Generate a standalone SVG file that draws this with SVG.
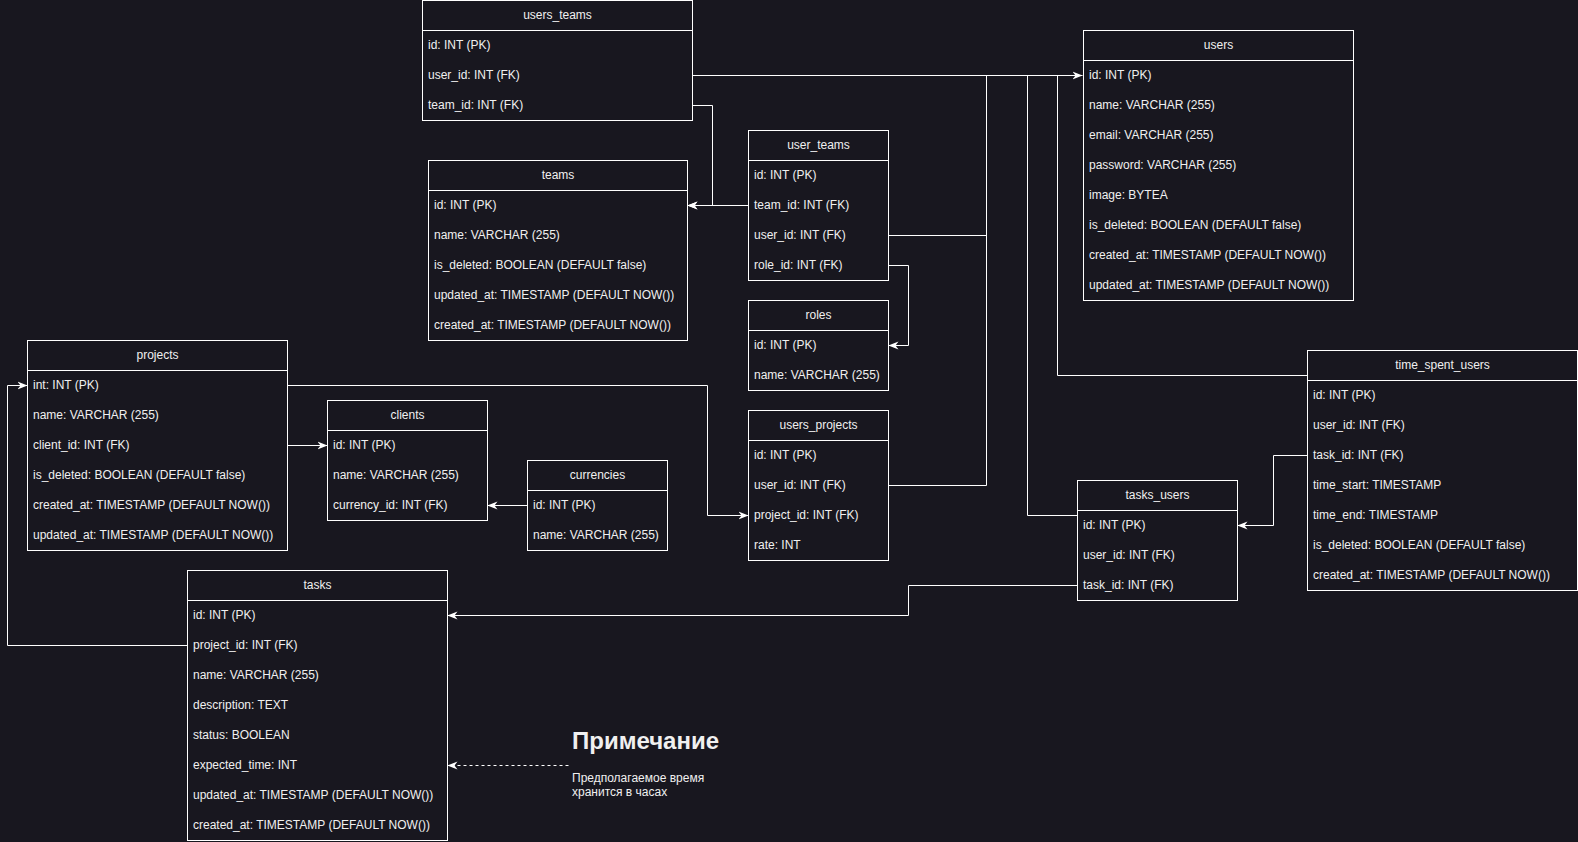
<svg xmlns="http://www.w3.org/2000/svg" width="1578" height="842" viewBox="0 0 1578 842">
<defs>
<style>
.bg{fill:#18171f}
.box{fill:#18171f;stroke:#ffffff;stroke-width:1}
.sep{stroke:#ffffff;stroke-width:1}
.h{font-family:"Liberation Sans",Arial,sans-serif;font-size:12px;fill:#f0f0f0;text-anchor:middle}
.r{font-family:"Liberation Sans",Arial,sans-serif;font-size:12px;fill:#f0f0f0}
.c{fill:none;stroke:#ffffff;stroke-width:1;marker-end:url(#arr)}
.cn{fill:none;stroke:#ffffff;stroke-width:1}
.d{fill:none;stroke:#ffffff;stroke-width:1;stroke-dasharray:3 3;marker-end:url(#arr)}
.nt{font-family:"Liberation Sans",Arial,sans-serif;font-size:24px;font-weight:bold;fill:#f0f0f0}
.ns{font-family:"Liberation Sans",Arial,sans-serif;font-size:12px;fill:#f0f0f0}
</style>
<marker id="arr" viewBox="0 0 10 10" refX="10" refY="5" markerWidth="10" markerHeight="10" markerUnits="userSpaceOnUse" orient="auto">
<path d="M0,1 L10,5 L0,9 L3,5 z" fill="#ffffff"/>
</marker>
</defs>
<rect class="bg" x="0" y="0" width="1578" height="842"/>

<g id="connectors">
<polyline class="c" points="692.5,75.5 1082.5,75.5"/>
<polyline class="c" points="692.5,105.5 712.5,105.5 712.5,205.5 687.5,205.5"/>
<polyline class="c" points="748.5,205.5 687.5,205.5"/>
<polyline class="cn" points="888.5,235.5 986.5,235.5 986.5,75.5"/>
<polyline class="c" points="888.5,265.5 908.5,265.5 908.5,345.5 888.5,345.5"/>
<polyline class="cn" points="888.5,485.5 986.5,485.5 986.5,75.5"/>
<polyline class="cn" points="1077.5,515.5 1027.5,515.5 1027.5,75.5"/>
<polyline class="cn" points="1307.5,375.5 1057.5,375.5 1057.5,75.5"/>
<polyline class="c" points="1307.5,455.5 1273.5,455.5 1273.5,525.5 1237.5,525.5"/>
<polyline class="c" points="1077.5,585.5 908.5,585.5 908.5,615.5 447.5,615.5"/>
<polyline class="c" points="287.5,385.5 707.5,385.5 707.5,515.5 748.5,515.5"/>
<polyline class="c" points="287.5,445.5 327.5,445.5"/>
<polyline class="c" points="527.5,505.5 487.5,505.5"/>
<polyline class="c" points="187.5,645.5 7.5,645.5 7.5,385.5 27.5,385.5"/>
<polyline class="d" points="568.5,765.5 447.5,765.5"/>
</g>

<g id="users_teams">
<rect class="box" x="422.5" y="0.5" width="270" height="120"/>
<line class="sep" x1="422.5" y1="30.5" x2="692.5" y2="30.5"/>
<text class="h" x="557.5" y="19">users_teams</text>
<text class="r" x="428" y="49">id: INT (PK)</text>
<text class="r" x="428" y="79">user_id: INT (FK)</text>
<text class="r" x="428" y="109">team_id: INT (FK)</text>
</g>

<g id="users">
<rect class="box" x="1083.5" y="30.5" width="270" height="270"/>
<line class="sep" x1="1083.5" y1="60.5" x2="1353.5" y2="60.5"/>
<text class="h" x="1218.5" y="49">users</text>
<text class="r" x="1089" y="79">id: INT (PK)</text>
<text class="r" x="1089" y="109">name: VARCHAR (255)</text>
<text class="r" x="1089" y="139">email: VARCHAR (255)</text>
<text class="r" x="1089" y="169">password: VARCHAR (255)</text>
<text class="r" x="1089" y="199">image: BYTEA</text>
<text class="r" x="1089" y="229">is_deleted: BOOLEAN (DEFAULT false)</text>
<text class="r" x="1089" y="259">created_at: TIMESTAMP (DEFAULT NOW())</text>
<text class="r" x="1089" y="289">updated_at: TIMESTAMP (DEFAULT NOW())</text>
</g>

<g id="teams">
<rect class="box" x="428.5" y="160.5" width="259" height="180"/>
<line class="sep" x1="428.5" y1="190.5" x2="687.5" y2="190.5"/>
<text class="h" x="558" y="179">teams</text>
<text class="r" x="434" y="209">id: INT (PK)</text>
<text class="r" x="434" y="239">name: VARCHAR (255)</text>
<text class="r" x="434" y="269">is_deleted: BOOLEAN (DEFAULT false)</text>
<text class="r" x="434" y="299">updated_at: TIMESTAMP (DEFAULT NOW())</text>
<text class="r" x="434" y="329">created_at: TIMESTAMP (DEFAULT NOW())</text>
</g>

<g id="user_teams">
<rect class="box" x="748.5" y="130.5" width="140" height="150"/>
<line class="sep" x1="748.5" y1="160.5" x2="888.5" y2="160.5"/>
<text class="h" x="818.5" y="149">user_teams</text>
<text class="r" x="754" y="179">id: INT (PK)</text>
<text class="r" x="754" y="209">team_id: INT (FK)</text>
<text class="r" x="754" y="239">user_id: INT (FK)</text>
<text class="r" x="754" y="269">role_id: INT (FK)</text>
</g>

<g id="roles">
<rect class="box" x="748.5" y="300.5" width="140" height="90"/>
<line class="sep" x1="748.5" y1="330.5" x2="888.5" y2="330.5"/>
<text class="h" x="818.5" y="319">roles</text>
<text class="r" x="754" y="349">id: INT (PK)</text>
<text class="r" x="754" y="379">name: VARCHAR (255)</text>
</g>

<g id="users_projects">
<rect class="box" x="748.5" y="410.5" width="140" height="150"/>
<line class="sep" x1="748.5" y1="440.5" x2="888.5" y2="440.5"/>
<text class="h" x="818.5" y="429">users_projects</text>
<text class="r" x="754" y="459">id: INT (PK)</text>
<text class="r" x="754" y="489">user_id: INT (FK)</text>
<text class="r" x="754" y="519">project_id: INT (FK)</text>
<text class="r" x="754" y="549">rate: INT</text>
</g>

<g id="projects">
<rect class="box" x="27.5" y="340.5" width="260" height="210"/>
<line class="sep" x1="27.5" y1="370.5" x2="287.5" y2="370.5"/>
<text class="h" x="157.5" y="359">projects</text>
<text class="r" x="33" y="389">int: INT (PK)</text>
<text class="r" x="33" y="419">name: VARCHAR (255)</text>
<text class="r" x="33" y="449">client_id: INT (FK)</text>
<text class="r" x="33" y="479">is_deleted: BOOLEAN (DEFAULT false)</text>
<text class="r" x="33" y="509">created_at: TIMESTAMP (DEFAULT NOW())</text>
<text class="r" x="33" y="539">updated_at: TIMESTAMP (DEFAULT NOW())</text>
</g>

<g id="clients">
<rect class="box" x="327.5" y="400.5" width="160" height="120"/>
<line class="sep" x1="327.5" y1="430.5" x2="487.5" y2="430.5"/>
<text class="h" x="407.5" y="419">clients</text>
<text class="r" x="333" y="449">id: INT (PK)</text>
<text class="r" x="333" y="479">name: VARCHAR (255)</text>
<text class="r" x="333" y="509">currency_id: INT (FK)</text>
</g>

<g id="currencies">
<rect class="box" x="527.5" y="460.5" width="140" height="90"/>
<line class="sep" x1="527.5" y1="490.5" x2="667.5" y2="490.5"/>
<text class="h" x="597.5" y="479">currencies</text>
<text class="r" x="533" y="509">id: INT (PK)</text>
<text class="r" x="533" y="539">name: VARCHAR (255)</text>
</g>

<g id="tasks">
<rect class="box" x="187.5" y="570.5" width="260" height="270"/>
<line class="sep" x1="187.5" y1="600.5" x2="447.5" y2="600.5"/>
<text class="h" x="317.5" y="589">tasks</text>
<text class="r" x="193" y="619">id: INT (PK)</text>
<text class="r" x="193" y="649">project_id: INT (FK)</text>
<text class="r" x="193" y="679">name: VARCHAR (255)</text>
<text class="r" x="193" y="709">description: TEXT</text>
<text class="r" x="193" y="739">status: BOOLEAN</text>
<text class="r" x="193" y="769">expected_time: INT</text>
<text class="r" x="193" y="799">updated_at: TIMESTAMP (DEFAULT NOW())</text>
<text class="r" x="193" y="829">created_at: TIMESTAMP (DEFAULT NOW())</text>
</g>

<g id="tasks_users">
<rect class="box" x="1077.5" y="480.5" width="160" height="120"/>
<line class="sep" x1="1077.5" y1="510.5" x2="1237.5" y2="510.5"/>
<text class="h" x="1157.5" y="499">tasks_users</text>
<text class="r" x="1083" y="529">id: INT (PK)</text>
<text class="r" x="1083" y="559">user_id: INT (FK)</text>
<text class="r" x="1083" y="589">task_id: INT (FK)</text>
</g>

<g id="time_spent_users">
<rect class="box" x="1307.5" y="350.5" width="270" height="240"/>
<line class="sep" x1="1307.5" y1="380.5" x2="1577.5" y2="380.5"/>
<text class="h" x="1442.5" y="369">time_spent_users</text>
<text class="r" x="1313" y="399">id: INT (PK)</text>
<text class="r" x="1313" y="429">user_id: INT (FK)</text>
<text class="r" x="1313" y="459">task_id: INT (FK)</text>
<text class="r" x="1313" y="489">time_start: TIMESTAMP</text>
<text class="r" x="1313" y="519">time_end: TIMESTAMP</text>
<text class="r" x="1313" y="549">is_deleted: BOOLEAN (DEFAULT false)</text>
<text class="r" x="1313" y="579">created_at: TIMESTAMP (DEFAULT NOW())</text>
</g>

<g id="note">
<text class="nt" x="572" y="749">Примечание</text>
<text class="ns" x="572" y="782">Предполагаемое время</text>
<text class="ns" x="572" y="796">хранится в часах</text>
</g>
</svg>
